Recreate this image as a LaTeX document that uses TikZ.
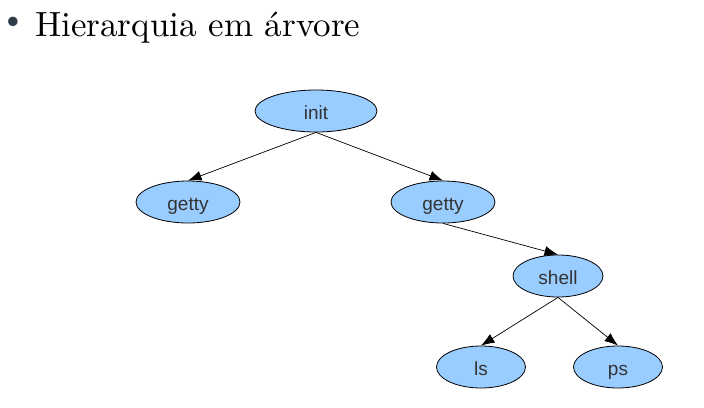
\documentclass[tikz,border=0pt]{standalone}
\usepackage{fontspec}
\newfontfamily\nodefont{Liberation Sans}
\newfontfamily\titlefont{lmroman10-regular}[Extension=.otf]
\usetikzlibrary{shapes.geometric,arrows.meta}
\definecolor{nodefill}{HTML}{99CCFF}
\definecolor{nodetext}{HTML}{333333}
\definecolor{bulletcol}{HTML}{2E3A48}
\begin{document}
\begin{tikzpicture}[x=1pt,y=-1pt,
  treenode/.style={ellipse,draw=black,line width=0.8pt,fill=nodefill,inner sep=0pt,
    minimum height=42pt,text height=20pt,text depth=4pt,
    font=\nodefont\fontsize{19}{22}\selectfont,text=nodetext},
  edge/.style={line width=0.7pt,-{Latex[length=13.5pt,width=10pt]}}]
\useasboundingbox (0,0) rectangle (704,407);
\node[inner sep=0pt,text=bulletcol,font=\titlefont\fontsize{33}{38}\selectfont] (bullet) at (13,23) {\textbullet};
\node[anchor=base west,inner sep=0pt,font=\titlefont\fontsize{35}{40}\selectfont] (title) at (35,36) {Hierarquia em árvore};
\node[treenode,minimum width=122pt] (init) at (316,111) {init};
\node[treenode,minimum width=104pt] (g1) at (188,202) {getty};
\node[treenode,minimum width=104pt] (g2) at (443,202) {getty};
\node[treenode,minimum width=90pt] (shell) at (558,276) {shell};
\node[treenode,minimum width=89pt] (ls) at (481,367) {ls};
\node[treenode,minimum width=89pt] (ps) at (618,367) {ps};
\draw[edge] (init.south) -- (g1.north);
\draw[edge] (init.south) -- (g2.north);
\draw[edge] (g2.south) -- (shell.north);
\draw[edge] (shell.south) -- (ls.north);
\draw[edge] (shell.south) -- (ps.north);
\end{tikzpicture}
\end{document}
